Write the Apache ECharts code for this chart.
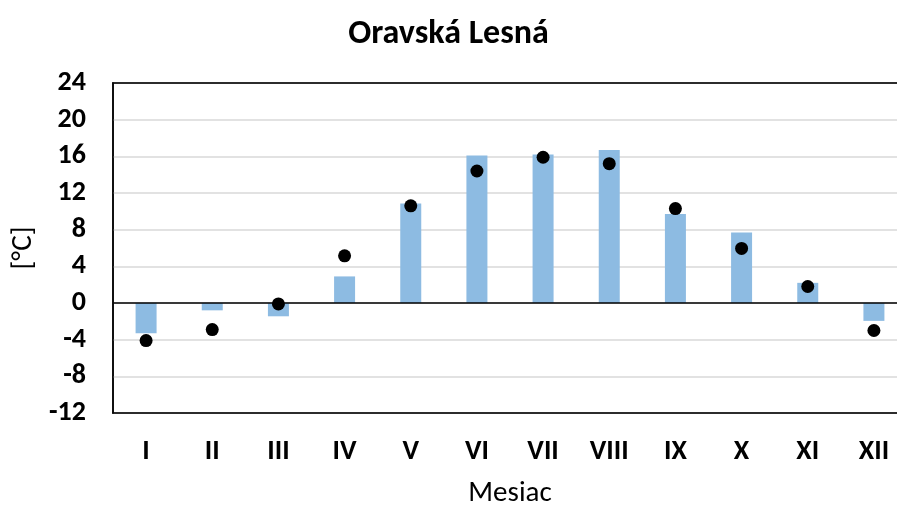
<!DOCTYPE html>
<html>
<head>
<meta charset="utf-8">
<script src="https://cdn.jsdelivr.net/npm/echarts@6/dist/echarts.min.js"></script>
<style>
  html, body { margin: 0; padding: 0; background: #fff; }
  #chart { width: 897px; height: 506px; }
</style>
</head>
<body>
<div id="chart"></div>
<script>
  // mesiace
  const months = ['I', 'II', 'III', 'IV', 'V', 'VI', 'VII', 'VIII', 'IX', 'X', 'XI', 'XII'];
  // stlpce (teplota)
  const barValues = [-3.3, -0.8, -1.45, 2.9, 10.85, 16.1, 16.2, 16.7, 9.7, 7.7, 2.2, -1.95];
  // body
  const dotValues = [-4.1, -2.9, -0.1, 5.15, 10.6, 14.4, 15.9, 15.2, 10.3, 5.95, 1.8, -3.0];

  const font = 'Carlito, "Liberation Sans Narrow", "Open Sans", sans-serif';

  const chart = echarts.init(document.getElementById('chart'));
  chart.setOption({
    animation: false,
    title: {
      text: 'Oravská Lesná',
      left: 'center',
      top: 12,
      textStyle: { fontFamily: font, fontSize: 34, fontWeight: 'bold', color: '#000' }
    },
    grid: {
      left: 113, top: 83, bottom: 93, right: -10,
      outerBoundsMode: 'none',
      containLabel: false,
      show: true, borderColor: '#000', borderWidth: 1.5
    },
    xAxis: [
      {
        type: 'category',
        data: months,
        name: 'Mesiac',
        nameLocation: 'middle',
        nameGap: 66,
        nameTextStyle: { fontFamily: font, fontSize: 29, color: '#000', verticalAlign: 'top' },
        axisLine: { show: true, onZero: false, lineStyle: { color: '#000', width: 1.5 } },
        axisTick: { show: false },
        axisLabel: { margin: 25, fontFamily: font, fontSize: 28, fontWeight: 'bold', color: '#000' }
      },
      {
        // horny okraj
        type: 'category',
        data: months,
        position: 'top',
        axisLine: { show: true, onZero: false, lineStyle: { color: '#000', width: 1.5 } },
        axisTick: { show: false },
        axisLabel: { show: false }
      }
    ],
    yAxis: {
      type: 'value',
      min: -12, max: 24, interval: 4,
      name: '[°C]',
      nameLocation: 'middle',
      nameRotate: 90,
      nameGap: 73,
      nameTextStyle: { fontFamily: font, fontSize: 29, color: '#000' },
      axisLine: { show: true, lineStyle: { color: '#000', width: 1.5 } },
      axisTick: { show: false },
      splitLine: { lineStyle: { color: '#d9d9d9', width: 1.5 } },
      axisLabel: { margin: 27, fontFamily: font, fontSize: 28, fontWeight: 'bold', color: '#000' }
    },
    series: [
      {
        type: 'bar',
        data: barValues,
        barWidth: 21,
        itemStyle: { color: '#8dbbe2' },
        markLine: {
          silent: true,
          symbol: 'none',
          label: { show: false },
          lineStyle: { color: '#000', type: 'solid', width: 1.5 },
          data: [{ yAxis: 0 }]
        }
      },
      {
        type: 'scatter',
        data: dotValues,
        symbol: 'circle',
        symbolSize: 13,
        itemStyle: { color: '#000', opacity: 1 },
        z: 5
      }
    ]
  });
</script>
</body>
</html>
